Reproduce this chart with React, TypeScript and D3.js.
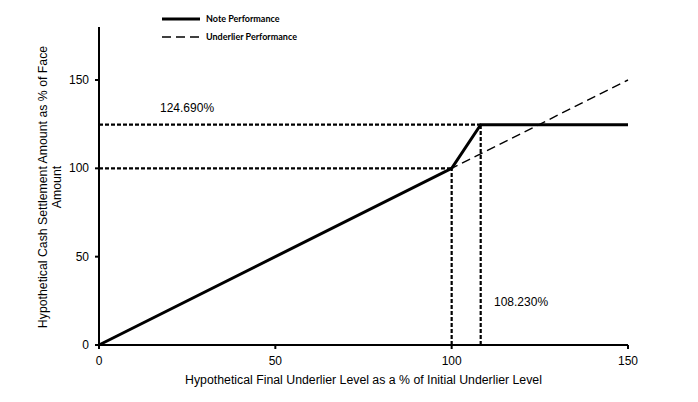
import * as d3 from "d3";
import { useEffect, useRef } from "react";

// payoff breakpoints (x = final underlier level %, y = cash settlement %)
const noteX = [0, 100, 108.23, 150];
const noteY = [0, 100, 124.69, 124.69];
const underX = [0, 150];
const underY = [0, 150];
const xTicks = [0, 50, 100, 150];
const yTicks = [0, 50, 100, 150];
const capLabel = "124.690%";
const capLevelLabel = "108.230%";
const legendNames = ["Note Performance", "Underlier Performance"];

const W = 698, H = 402;

const App = () => {
  const ref: any = useRef();

  useEffect(() => {
    const svg = d3.select(ref.current);
    svg.selectAll("*").remove();

    const x = d3.scaleLinear().domain([0, 150]).range([99, 628]);
    const y = d3.scaleLinear().domain([0, 180]).range([345, 27]);
    const font = "Arial, 'Liberation Sans', sans-serif";

    // reference (dashed) guides
    const guides = [
      [[0, noteY[2]], [noteX[2], noteY[2]]],
      [[0, noteY[1]], [noteX[1], noteY[1]]],
      [[noteX[1], 0], [noteX[1], noteY[1]]],
      [[noteX[2], 0], [noteX[2], noteY[2]]],
    ];
    const line = d3.line<any>().x(d => x(d[0])).y(d => y(d[1]));
    guides.forEach(g => {
      svg.append("path")
        .attr("d", line(g as any))
        .attr("fill", "none")
        .attr("stroke", "#000")
        .attr("stroke-width", 2.2)
        .attr("stroke-dasharray", "4,2");
    });

    // underlier dashed line
    svg.append("path")
      .attr("d", line(underX.map((v, i) => [v, underY[i]])))
      .attr("fill", "none")
      .attr("stroke", "#000")
      .attr("stroke-width", 1.4)
      .attr("stroke-dasharray", "9,5");

    // note performance
    svg.append("path")
      .attr("d", line(noteX.map((v, i) => [v, noteY[i]])))
      .attr("fill", "none")
      .attr("stroke", "#000")
      .attr("stroke-width", 3)
      .attr("stroke-linejoin", "miter");

    // axes
    svg.append("line")
      .attr("x1", x(0)).attr("x2", x(0))
      .attr("y1", y(0)).attr("y2", y(180))
      .attr("stroke", "#000").attr("stroke-width", 2);
    svg.append("line")
      .attr("x1", x(0)).attr("x2", x(150))
      .attr("y1", y(0)).attr("y2", y(0))
      .attr("stroke", "#000").attr("stroke-width", 2);

    yTicks.forEach(t => {
      svg.append("line")
        .attr("x1", x(0) - 4).attr("x2", x(0))
        .attr("y1", y(t)).attr("y2", y(t))
        .attr("stroke", "#000").attr("stroke-width", 2);
      svg.append("text")
        .attr("x", 89).attr("y", y(t) + 4)
        .attr("text-anchor", "end")
        .attr("font-family", font).attr("font-size", 12)
        .text(t);
    });
    xTicks.forEach(t => {
      svg.append("line")
        .attr("x1", x(t)).attr("x2", x(t))
        .attr("y1", y(0)).attr("y2", y(0) + 4)
        .attr("stroke", "#000").attr("stroke-width", 2);
      svg.append("text")
        .attr("x", x(t)).attr("y", 365)
        .attr("text-anchor", "middle")
        .attr("font-family", font).attr("font-size", 12)
        .text(t);
    });

    // axis titles
    svg.append("text")
      .attr("x", (x(0) + x(150)) / 2).attr("y", 384)
      .attr("text-anchor", "middle")
      .attr("font-family", font).attr("font-size", 12.3)
      .text("Hypothetical Final Underlier Level as a % of Initial Underlier Level");
    const yt = svg.append("text")
      .attr("transform", "translate(47,187) rotate(-90)")
      .attr("text-anchor", "middle")
      .attr("font-family", font).attr("font-size", 12.3);
    yt.append("tspan").attr("x", 0).attr("y", 0)
      .text("Hypothetical Cash Settlement Amount as % of Face");
    yt.append("tspan").attr("x", 0).attr("y", 13.5).text("Amount");

    // annotations
    svg.append("text")
      .attr("x", 160).attr("y", 112)
      .attr("font-family", font).attr("font-size", 12)
      .text(capLabel);
    svg.append("text")
      .attr("x", 494).attr("y", 306)
      .attr("font-family", font).attr("font-size", 12)
      .text(capLevelLabel);

    // legend
    const lfont = "Lato, 'Liberation Sans Narrow', sans-serif";
    legendNames.forEach((name, i) => {
      const ly = 19 + i * 18;
      svg.append("line")
        .attr("x1", 162).attr("x2", 200)
        .attr("y1", ly).attr("y2", ly)
        .attr("stroke", "#000")
        .attr("stroke-width", i === 0 ? 3 : 1.4)
        .attr("stroke-dasharray", i === 0 ? null : "9,5");
      svg.append("text")
        .attr("x", 206).attr("y", ly + 3)
        .attr("font-family", lfont).attr("font-size", 9)
        .attr("font-weight", "bold")
        .text(name);
    });
  }, []);

  return (
    <div style={{ position: "absolute", left: 0, top: 0 }}>
      <svg ref={ref} width={W} height={H} style={{ display: "block", background: "#fff" }} />
    </div>
  );
};

export default App;
